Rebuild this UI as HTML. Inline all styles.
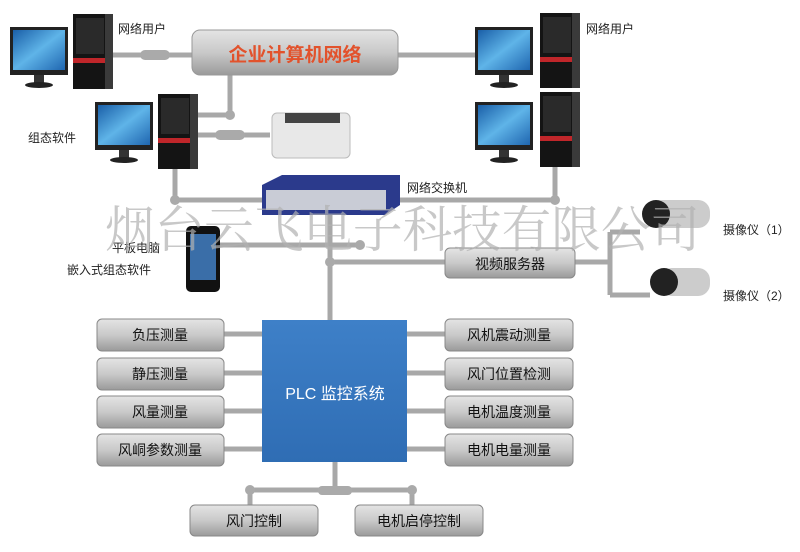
<!DOCTYPE html>
<html><head><meta charset="utf-8"><style>
body{margin:0;background:#fff;}
svg{display:block;font-family:"Liberation Sans","Noto Sans CJK SC",sans-serif;}
</style></head><body>
<svg width="800" height="552" viewBox="0 0 800 552">
<defs>
<linearGradient id="gb" x1="0" y1="0" x2="0" y2="1"><stop offset="0" stop-color="#e4e4e4"/><stop offset=".5" stop-color="#c9c9c9"/><stop offset="1" stop-color="#9a9a9a"/></linearGradient>
<linearGradient id="scr" x1="0" y1="0" x2="1" y2="1"><stop offset="0" stop-color="#1a5fa8"/><stop offset=".5" stop-color="#5fb4e8"/><stop offset="1" stop-color="#1f66b0"/></linearGradient>
<linearGradient id="plc" x1="0" y1="0" x2="0" y2="1"><stop offset="0" stop-color="#3e80c8"/><stop offset="1" stop-color="#2f6db4"/></linearGradient>
<g id="mon"><rect x="0" y="0" width="58" height="48" fill="#222"/><rect x="3" y="3" width="52" height="40" fill="url(#scr)"/><rect x="24" y="48" width="10" height="8" fill="#333"/><ellipse cx="29" cy="58" rx="14" ry="3" fill="#222"/></g>
<g id="tow"><rect x="0" y="0" width="40" height="75" fill="#141414"/><rect x="3" y="4" width="28" height="36" fill="#2a2a2a"/><rect x="0" y="44" width="32" height="5" fill="#c0262a"/><rect x="32" y="0" width="8" height="75" fill="#3a3a3a"/></g>
</defs>
<g stroke="#a8a8a8" stroke-width="5" fill="none">
<path d="M112 55H192M398 55H475"/>
<path d="M230 75V115H197M197 135H270"/>
<path d="M175 165V200H555V165"/>
<path d="M330 215V320"/>
<path d="M220 245H360M330 262H445M575 262H610M610 232V295M610 232H640M610 295H650"/>
<path d="M224 334H262M224 373H262M224 411H262M224 449H262"/>
<path d="M407 334H445M407 373H445M407 411H445M407 449H445"/>
<path d="M335 462V490M250 490H412M250 490V505M412 490V505"/>
</g>
<g fill="#aaa"><circle cx="230" cy="115" r="5"/><circle cx="175" cy="200" r="5"/><circle cx="555" cy="200" r="5"/><circle cx="360" cy="245" r="5"/><circle cx="330" cy="262" r="5"/><circle cx="250" cy="490" r="5"/><circle cx="412" cy="490" r="5"/><rect x="140" y="50" width="30" height="10" rx="5"/><rect x="215" y="130" width="30" height="10" rx="5"/><rect x="318" y="486" width="34" height="9" rx="4"/></g>
<rect x="192" y="30" width="206" height="45" rx="8" fill="url(#gb)" stroke="#999"/>
<text x="295" y="61" font-size="19" fill="#e2522c" text-anchor="middle" font-weight="bold">企业计算机网络</text>
<use href="#mon" x="10" y="27"/><use href="#tow" x="73" y="14"/>
<use href="#mon" x="95" y="102"/><use href="#tow" x="158" y="94"/>
<use href="#mon" x="475" y="27"/><use href="#tow" x="540" y="13"/>
<use href="#mon" x="475" y="102"/><use href="#tow" x="540" y="92"/>
<g font-size="12" fill="#222">
<text x="118" y="33">网络用户</text><text x="586" y="33">网络用户</text>
<text x="28" y="142">组态软件</text><text x="407" y="192">网络交换机</text>
<text x="112" y="252">平板电脑</text><text x="67" y="274">嵌入式组态软件</text>
<text x="723" y="234">摄像仪（1）</text><text x="723" y="300">摄像仪（2）</text>
</g>
<rect x="272" y="113" width="78" height="45" rx="5" fill="#e8e8e8" stroke="#bbb"/><rect x="285" y="113" width="55" height="10" fill="#444"/>
<path d="M262 185L282 175H400V205L385 215H262Z" fill="#2b3a8c"/><rect x="266" y="190" width="120" height="20" fill="#c9ccd6"/>
<rect x="186" y="226" width="34" height="66" rx="5" fill="#111"/><rect x="190" y="234" width="26" height="46" fill="#3a6ea8"/>
<rect x="445" y="248" width="130" height="30" rx="5" fill="url(#gb)" stroke="#888"/>
<text x="510" y="269" font-size="14" text-anchor="middle" fill="#111">视频服务器</text>
<rect x="650" y="200" width="60" height="28" rx="12" fill="#ccc"/><circle cx="656" cy="214" r="14" fill="#222"/>
<rect x="660" y="268" width="50" height="28" rx="12" fill="#ccc"/><circle cx="664" cy="282" r="14" fill="#222"/>
<text x="105" y="247" font-size="50" font-family="Liberation Serif,'Noto Serif CJK SC',serif" fill="#b0b0b0" fill-opacity=".7" textLength="595" lengthAdjust="spacingAndGlyphs">烟台云飞电子科技有限公司</text>
<rect x="262" y="320" width="145" height="142" fill="url(#plc)"/>
<text x="335" y="399" font-size="16" fill="#fff" text-anchor="middle">PLC 监控系统</text>
<g fill="url(#gb)" stroke="#888">
<rect x="97" y="319" width="127" height="32" rx="5"/><rect x="97" y="358" width="127" height="32" rx="5"/><rect x="97" y="396" width="127" height="32" rx="5"/><rect x="97" y="434" width="127" height="32" rx="5"/>
<rect x="445" y="319" width="128" height="32" rx="5"/><rect x="445" y="358" width="128" height="32" rx="5"/><rect x="445" y="396" width="128" height="32" rx="5"/><rect x="445" y="434" width="128" height="32" rx="5"/>
<rect x="190" y="505" width="128" height="31" rx="5"/><rect x="355" y="505" width="128" height="31" rx="5"/>
</g>
<g font-size="14" fill="#111" text-anchor="middle">
<text x="160" y="340">负压测量</text><text x="160" y="379">静压测量</text><text x="160" y="417">风量测量</text><text x="160" y="455">风峒参数测量</text>
<text x="509" y="340">风机震动测量</text><text x="509" y="379">风门位置检测</text><text x="509" y="417">电机温度测量</text><text x="509" y="455">电机电量测量</text>
<text x="254" y="526">风门控制</text><text x="419" y="526">电机启停控制</text>
</g>
</svg>
</body></html>
